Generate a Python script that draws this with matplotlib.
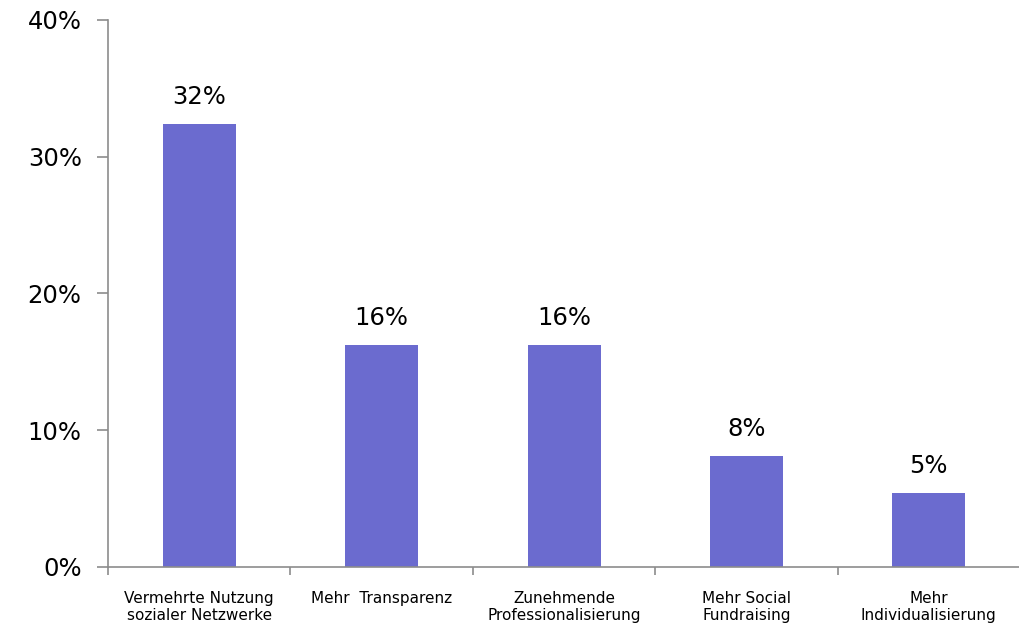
import matplotlib
matplotlib.use("Agg")
import matplotlib.pyplot as plt
from matplotlib.ticker import FixedLocator, PercentFormatter

categories = [
    "Vermehrte Nutzung\nsozialer Netzwerke",
    "Mehr  Transparenz",
    "Zunehmende\nProfessionalisierung",
    "Mehr Social\nFundraising",
    "Mehr\nIndividualisierung",
]
shares = [32.4, 16.2, 16.2, 8.1, 5.4]
y_ticks = [0, 10, 20, 30, 40]

bar_color = "#6b6bcf"
axis_color = "#8c8c8c"

fig = plt.figure(figsize=(10.2, 6.23), dpi=100)
ax = fig.add_axes([0.106, 0.09, 0.894, 0.878])

x = range(len(categories))
bars = ax.bar(x, shares, width=0.4, color=bar_color, zorder=2)

for rect, v in zip(bars, shares):
    ax.annotate(f"{v:.0f}%", (rect.get_x() + rect.get_width() / 2, v),
                xytext=(0, 11), textcoords="offset points",
                ha="center", va="bottom", fontsize=17.5, color="black")

ax.set_xlim(-0.5, len(categories) - 0.5)
ax.set_ylim(0, 40)
ax.set_yticks(y_ticks)
ax.yaxis.set_major_formatter(PercentFormatter(decimals=0))

# category labels centred, tick marks between categories
ax.set_xticks(list(x))
ax.set_xticklabels(categories, fontsize=11, linespacing=1.2)
ax.tick_params(axis="x", which="major", length=0, pad=17)
ax.xaxis.set_minor_locator(FixedLocator([i - 0.5 for i in range(len(categories) + 1)]))
ax.tick_params(axis="x", which="minor", length=6, color=axis_color, width=1.2)
ax.tick_params(axis="y", length=8, color=axis_color, width=1.2, labelsize=17.5, pad=11)

for side in ("top", "right"):
    ax.spines[side].set_visible(False)
for side in ("left", "bottom"):
    ax.spines[side].set_color(axis_color)
    ax.spines[side].set_linewidth(1.2)

fig.savefig("out.png", dpi=100)
